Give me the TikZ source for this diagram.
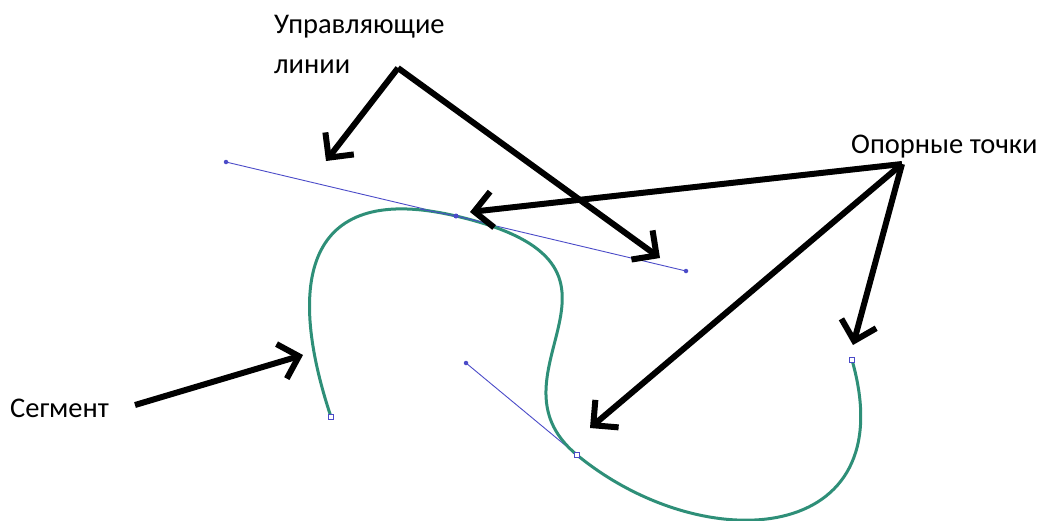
\documentclass[tikz,border=0pt]{standalone}
\usepackage{fontspec}
\setmainfont{Carlito}
\usetikzlibrary{arrows.meta}
\definecolor{curvegreen}{HTML}{2E8F78}
\definecolor{handleblue}{HTML}{4B4BC8}
\tikzset{
  lbl/.style={anchor=base west, inner sep=0pt, font=\fontsize{28.5}{40}\selectfont},
  bigarrow/.style={line width=6pt, -{Straight Barb[length=18pt,width=36pt,line cap=butt]}},
  curve/.style={curvegreen, line width=3pt},
  handle/.style={handleblue, line width=0.9pt},
  hdot/.style={circle, fill=handleblue, inner sep=0pt, minimum size=4.5pt},
  anchorsq/.style={rectangle, draw=handleblue, fill=white, line width=0.9pt, inner sep=0pt, minimum size=4.5pt},
  anchorfill/.style={circle, fill=handleblue, inner sep=0pt, minimum size=5pt},
}
\begin{document}
\begin{tikzpicture}[x=1pt,y=-1pt]
\useasboundingbox (0,0) rectangle (1043,520);
% labels
\node[lbl] (l1) at (274,33) {Управляющие};
\node[lbl] (l2) at (274,73) {линии};
\node[lbl] (l3) at (851,153) {Опорные точки};
\node[lbl] (l4) at (10,417) {Сегмент};
% handles
\coordinate (h1a) at (226,162);
\coordinate (h1b) at (686,271);
\coordinate (h2a) at (466,363);
\coordinate (A1) at (331,417);
\coordinate (A2) at (456,216);
\coordinate (A3) at (577,455);
\coordinate (A4) at (852,360);
\draw[handle] (h1a) -- (h1b);
\draw[handle] (h2a) -- (A3);
% curve
\draw[curve] (A1) .. controls (283.6,274.6) and (310,181.8) .. (A2)
  .. controls (670,266.2) and (477,372) .. (A3)
  .. controls (705,560) and (905,545) .. (A4);
\draw[handle] (420,209) -- (A2) -- (492,224.5);
% points
\node[hdot] (d1) at (h1a) {};
\node[hdot] (d2) at (h1b) {};
\node[hdot] (d3) at (h2a) {};
\node[anchorfill] (p2) at (A2) {};
\node[anchorsq] (p1) at (A1) {};
\node[anchorsq] (p3) at (A3) {};
\node[anchorsq] (p4) at (A4) {};
% arrows
\coordinate (apexL) at (398,68);
\coordinate (apexO) at (902,164);
\coordinate (segS) at (135,405);
\coordinate (tL1) at (326,161);
\coordinate (tL2) at (660,258);
\coordinate (tO1) at (470,212);
\coordinate (tO2) at (590,428);
\coordinate (tO3) at (853,345);
\coordinate (tS) at (303,355);
\draw[bigarrow] (apexL) -- (tL1);
\draw[bigarrow] (apexL) -- (tL2);
\draw[bigarrow] (apexO) -- (tO1);
\draw[bigarrow] (apexO) -- (tO2);
\draw[bigarrow] (apexO) -- (tO3);
\draw[bigarrow] (segS) -- (tS);
\end{tikzpicture}
\end{document}
